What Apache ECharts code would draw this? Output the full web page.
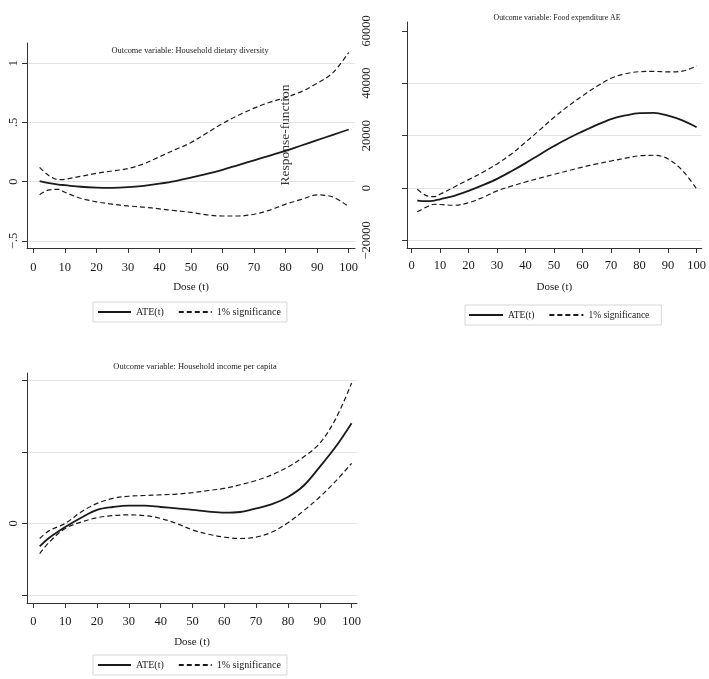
<!DOCTYPE html>
<html><head><meta charset="utf-8">
<script src="https://cdn.jsdelivr.net/npm/echarts@6/dist/echarts.min.js"></script>
<style>html,body{margin:0;padding:0;background:#fff}#c{width:709px;height:679px}</style>
</head><body><div id="c"></div>
<script>
const dose = [2,5,8,10,15,20,25,30,35,40,45,50,55,60,65,70,75,80,85,90,95,100];
const xTicks = [0,10,20,30,40,50,60,70,80,90,100];

// Panel A: Household dietary diversity
const ateA   = [0.005,-0.012,-0.025,-0.03,-0.043,-0.05,-0.052,-0.047,-0.035,-0.017,0.005,0.034,0.065,0.10,0.14,0.18,0.22,0.26,0.305,0.35,0.395,0.44];
const upperA = [0.12,0.05,0.017,0.02,0.045,0.07,0.09,0.11,0.15,0.21,0.27,0.33,0.41,0.49,0.56,0.62,0.67,0.71,0.76,0.83,0.92,1.09];
const lowerA = [-0.11,-0.07,-0.065,-0.09,-0.14,-0.17,-0.19,-0.205,-0.215,-0.23,-0.245,-0.26,-0.28,-0.29,-0.29,-0.275,-0.24,-0.19,-0.15,-0.112,-0.13,-0.21];
const yTicksA = [-0.5,0,0.5,1];
const yLabelsA = {"-0.5":"\u2212.5","0":"0","0.5":".5","1":"1"};

// Panel B: Food expenditure AE
const ateB   = [-4800,-5000,-4800,-4300,-3000,-1100,1100,3500,6400,9500,12800,16000,19000,21600,24100,26300,27700,28600,28700,27600,25800,23200];
const upperB = [-500,-2800,-3300,-2400,400,3200,6000,9200,13000,17500,22200,27000,31300,35200,38800,41900,43600,44400,44500,44300,44600,46600];
const lowerB = [-9100,-7400,-6200,-6300,-6600,-5600,-3600,-1100,700,2300,3800,5200,6600,8000,9200,10300,11400,12300,12500,11100,6700,-300];
const yTicksB = [-20000,0,20000,40000,60000];
const yLabelsB = {"-20000":"\u221220000","0":"0","20000":"20000","40000":"40000","60000":"60000"};

// Panel C: Household income per capita
const doseC  = [2,5,10,15,20,25,30,35,40,45,50,55,60,65,70,75,80,85,90,95,100];
const ateC   = [-0.32,-0.2,-0.05,0.08,0.19,0.23,0.25,0.25,0.23,0.21,0.19,0.165,0.15,0.16,0.21,0.27,0.37,0.53,0.79,1.07,1.40];
const upperC = [-0.21,-0.1,0.0,0.16,0.28,0.35,0.38,0.39,0.40,0.41,0.43,0.46,0.49,0.54,0.6,0.68,0.79,0.93,1.12,1.46,1.96];
const lowerC = [-0.42,-0.26,-0.07,0.02,0.08,0.11,0.12,0.11,0.07,0.0,-0.09,-0.15,-0.19,-0.21,-0.19,-0.12,0.01,0.18,0.37,0.59,0.84];
const yTicksC = [-1,0,1,2];
const yLabelsC = {"-1":"","0":"0","1":"","2":""};

const titles = ["Outcome variable: Household dietary diversity","Outcome variable: Food expenditure AE","Outcome variable: Household income per capita"];
const legendNames = ["ATE(t)","1% significance"];

const FONT = "Liberation Serif";
const INK = "#1a1a1a";
const GRID = "#e4e4e4";

function pairs(xs, ys){ return xs.map((x,i)=>[x, ys[i]]); }

function xAxis(idx, min, max, labelMargin){
  return {
    type:'value', gridIndex: idx, min: min, max: max,
    name: 'Dose (t)', nameLocation: 'middle', nameGap: 34,
    nameTextStyle: {fontFamily: FONT, fontSize: 11, color: INK},
    axisLine: {onZero:false, lineStyle:{color:'#333', width:1}},
    axisTick: {show:true, length:5, inside:false, customValues: xTicks, lineStyle:{color:'#333'}},
    axisLabel: {customValues: xTicks, margin: labelMargin, fontFamily: FONT, fontSize: 12.5, color: INK},
    splitLine: {show:false}
  };
}
function yAxis(idx, min, max, ticks, labels, margin, gridColors){
  return {
    type:'value', gridIndex: idx, min: min, max: max,
    axisLine: {show:true, onZero:false, lineStyle:{color:'#333', width:1}},
    axisTick: {show:true, length:5, inside:false, customValues: ticks, lineStyle:{color:'#333'}},
    axisLabel: {customValues: ticks, rotate: 90, margin: margin, fontFamily: FONT, fontSize: 12.5, color: INK,
      formatter: v => { const k = String(v); return labels[k] !== undefined ? labels[k] : ''; }},
    splitLine: {show:true, lineStyle:{color: gridColors, width:1}}
  };
}
function lines(idx, xs, ate, up, lo){
  const base = {type:'line', xAxisIndex: idx, yAxisIndex: idx, symbol:'circle', showSymbol:false, smooth:0.35, silent:true, z:3};
  return [
    Object.assign({}, base, {name: legendNames[0], data: pairs(xs, ate), lineStyle:{color:INK, width:1.8, type:'solid'}, itemStyle:{color:INK}}),
    Object.assign({}, base, {name: legendNames[1], data: pairs(xs, up), lineStyle:{color:INK, width:1.2, type:[5,3]}, itemStyle:{color:INK}}),
    Object.assign({}, base, {name: legendNames[1], data: pairs(xs, lo), lineStyle:{color:INK, width:1.2, type:[5,3]}, itemStyle:{color:INK}})
  ];
}
function legend(left, top, fs, iw, pad, gap){
  return {
    left: left, top: top, orient:'horizontal', data: legendNames,
    itemWidth: iw, itemHeight: 10, itemGap: gap,
    borderColor:'#d6d6d6', borderWidth:1, padding: pad,
    selectedMode:false,
    itemStyle:{opacity:0},
    textStyle:{fontFamily: FONT, fontSize: fs, color: INK}
  };
}

const chart = echarts.init(document.getElementById('c'), null, {renderer:'canvas'});
chart.setOption({
  backgroundColor:'#fff',
  animation:false,
  title: [
    {text: titles[0], left: 185, top: 42, textAlign:'center', textStyle:{fontFamily:FONT, fontSize:8.4, fontWeight:'normal', color:INK}},
    {text: titles[1], left: 552, top: 9, textAlign:'center', textStyle:{fontFamily:FONT, fontSize:7.8, fontWeight:'normal', color:INK}},
    {text: titles[2], left: 190, top: 358, textAlign:'center', textStyle:{fontFamily:FONT, fontSize:8.45, fontWeight:'normal', color:INK}}
  ],
  grid: [
    {left:27, top:43, width:328, height:205},
    {left:407, top:22, width:298, height:226},
    {left:27, top:373, width:330, height:230}
  ],
  xAxis: [
    xAxis(0, -2, 102, 13),
    xAxis(1, -1.6, 101.8, 11),
    xAxis(2, -2, 101.7, 12)
  ],
  yAxis: [
    yAxis(0, -0.56, 1.17, yTicksA, yLabelsA, 7, [GRID]),
    yAxis(1, -22900, 63360, yTicksB, yLabelsB, 34, [GRID,GRID,GRID,GRID,'rgba(0,0,0,0)']),
    yAxis(2, -1.11, 2.10, yTicksC, yLabelsC, 7, [GRID])
  ],
  legend: [
    legend(93, 302, 10, 33, [5,6,5,4], 14),
    legend(465, 305, 9.5, 34, [5,12,5,3], 14),
    legend(93, 655, 10, 33, [5,6,5,4], 14)
  ],
  graphic: [
    {type:'text', x: 285, y: 135, rotation: Math.PI/2, style:{text:'Response-function', font:'13.5px "Liberation Serif"', fill:'#333', align:'center', verticalAlign:'middle'}}
  ],
  series: [].concat(
    lines(0, dose, ateA, upperA, lowerA),
    lines(1, dose, ateB, upperB, lowerB),
    lines(2, doseC, ateC, upperC, lowerC)
  )
});
</script>
</body></html>
